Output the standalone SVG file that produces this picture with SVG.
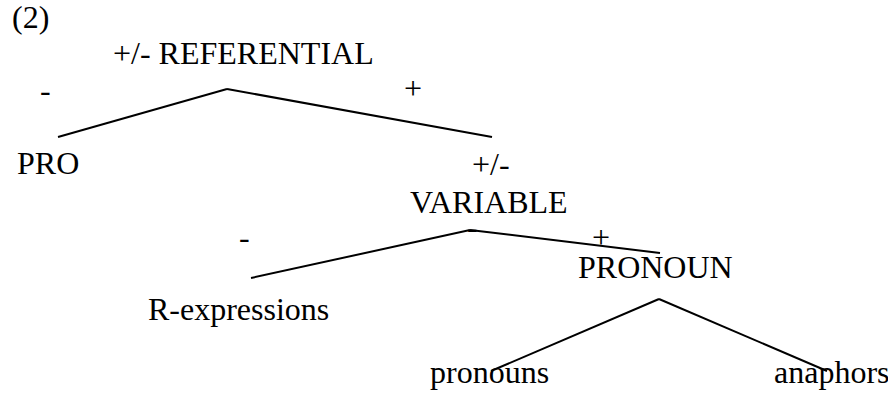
<svg xmlns="http://www.w3.org/2000/svg" width="888" height="405" viewBox="0 0 888 405">
<style>
.t{font-family:'Liberation Serif','Times New Roman',serif;font-size:32px;fill:#000}
.c line{stroke:#000;stroke-width:2}
</style>
<rect width="888" height="405" fill="#fff"/>
<g class="t">
<text x="12" y="28">(2)</text>
<g id="referential"><text x="113" y="64">+/- REFERENTIAL</text></g>
<g id="pro"><text x="17" y="174">PRO</text></g>
<g id="variable"><text x="472" y="175">+/-</text><text x="410" y="213">VARIABLE</text></g>
<g id="rexpr"><text x="148" y="320">R-expressions</text></g>
<g id="pronoun"><text x="578" y="278">PRONOUN</text></g>
<g id="pronouns"><text x="430" y="383">pronouns</text></g>
<g id="anaphors"><text x="774" y="383">anaphors</text></g>
<g id="labels">
<text x="40" y="101">-</text>
<text x="404" y="99">+</text>
<text x="239" y="248">-</text>
<text x="467" y="238">-</text>
<text x="592" y="248">+</text>
</g>
</g>
<g id="connectors" class="c">
<line x1="227" y1="89" x2="58" y2="137"/>
<line x1="227" y1="89" x2="492" y2="137"/>
<line x1="470" y1="230" x2="251" y2="278"/>
<line x1="470" y1="230" x2="660" y2="253"/>
<line x1="659" y1="299" x2="491" y2="371"/>
<line x1="659" y1="299" x2="827" y2="371"/>
</g>
</svg>
